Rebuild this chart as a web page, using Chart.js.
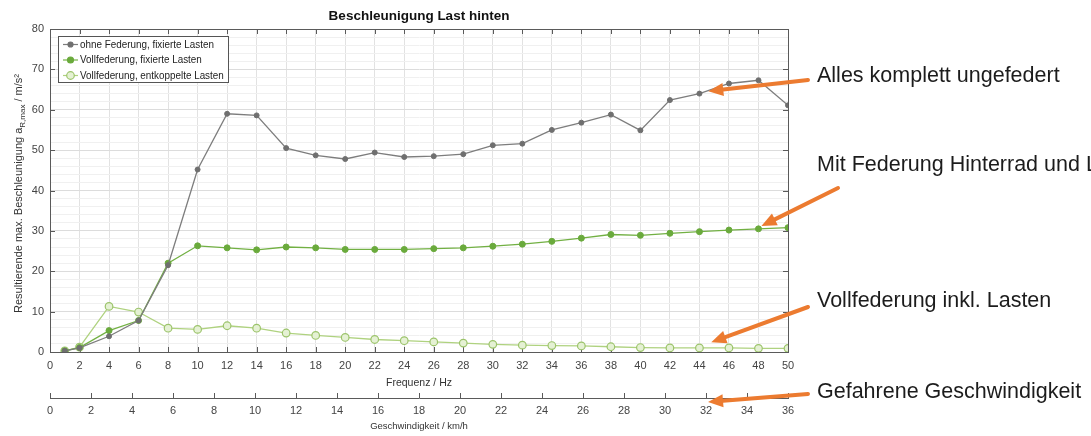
<!DOCTYPE html>
<html>
<head>
<meta charset="utf-8">
<title>Beschleunigung Last hinten</title>
<script src="https://cdn.jsdelivr.net/npm/chart.js@4.4.0/dist/chart.umd.min.js"></script>
<style>
  html, body { margin: 0; padding: 0; background: #fff; }
  #wrap { width: 1091px; height: 436px; }
</style>
</head>
<body>
<div id="wrap"><canvas id="accelChart" width="1091" height="436"></canvas></div>
<script>
// --------------------- Data ---------------------
const frequencies = [1, 2, 4, 6, 8, 10, 12, 14, 16, 18, 20, 22, 24, 26, 28, 30, 32, 34, 36, 38, 40, 42, 44, 46, 48, 50];

const ohneFederung = [0.3, 1.0, 3.9, 7.8, 21.5, 45.2, 59.0, 58.6, 50.5, 48.7, 47.8, 49.4, 48.3, 48.5, 49.0, 51.2, 51.6, 55.0, 56.8, 58.8, 54.9, 62.4, 64.0, 66.5, 67.3, 61.1];
const vollFixiert = [0.3, 1.1, 5.3, 7.8, 22.0, 26.3, 25.8, 25.3, 26.0, 25.8, 25.4, 25.4, 25.4, 25.6, 25.8, 26.2, 26.7, 27.4, 28.2, 29.1, 28.9, 29.4, 29.8, 30.2, 30.5, 30.8];
const vollEntkoppelt = [0.3, 1.2, 11.3, 9.9, 5.9, 5.6, 6.5, 5.9, 4.7, 4.1, 3.6, 3.1, 2.8, 2.5, 2.2, 1.9, 1.7, 1.6, 1.5, 1.3, 1.1, 1.0, 1.0, 1.0, 0.9, 0.9];

const freqTickLabels = [0, 2, 4, 6, 8, 10, 12, 14, 16, 18, 20, 22, 24, 26, 28, 30, 32, 34, 36, 38, 40, 42, 44, 46, 48, 50];
const speedTickLabels = [0, 2, 4, 6, 8, 10, 12, 14, 16, 18, 20, 22, 24, 26, 28, 30, 32, 34, 36];
const yTickLabels = [0, 10, 20, 30, 40, 50, 60, 70, 80];

// minor grid every 2 m/s²
const yMinorTicks = [];
for (let v = 0; v <= 80; v += 2) yMinorTicks.push(v);

const toPoints = (arr) => frequencies.map((f, i) => ({ x: f, y: arr[i] }));

// --------------------- Styles ---------------------
const tickFont = { family: "'Liberation Sans', Arial, sans-serif", size: 11 };
const labelFont = { family: "'Liberation Sans', Arial, sans-serif", size: 10.5 };
const ORANGE = "#ec7b30";

// draw text squeezed horizontally (MATLAB labels look condensed)
function narrowText(ctx, text, x, y, squeeze) {
  ctx.save();
  ctx.translate(x, y);
  ctx.scale(squeeze, 1);
  ctx.fillText(text, 0, 0);
  ctx.restore();
}

// --------------------- Plugins ---------------------
const frameAndTitle = {
  id: "frameAndTitle",
  beforeDatasetsDraw(chart) {
    const { ctx, chartArea: a, scales } = chart;
    ctx.save();
    ctx.strokeStyle = "#5a5a5a";
    ctx.lineWidth = 1;
    ctx.strokeRect(a.left + 0.5, a.top + 0.5, a.right - a.left, a.bottom - a.top);
    // inward ticks on all four edges
    ctx.beginPath();
    freqTickLabels.forEach(v => {
      const px = Math.round(scales.x.getPixelForValue(v)) + 0.5;
      ctx.moveTo(px, a.top); ctx.lineTo(px, a.top + 5);
      ctx.moveTo(px, a.bottom); ctx.lineTo(px, a.bottom - 5);
    });
    yTickLabels.forEach(v => {
      const py = Math.round(scales.y.getPixelForValue(v)) + 0.5;
      ctx.moveTo(a.right, py); ctx.lineTo(a.right - 5, py);
      ctx.moveTo(a.left, py); ctx.lineTo(a.left + 5, py);
    });
    // upward ticks on speed axis
    const x2 = scales.x2;
    speedTickLabels.forEach(v => {
      const px = Math.round(x2.getPixelForValue(v)) + 0.5;
      ctx.moveTo(px, x2.top); ctx.lineTo(px, x2.top - 5);
    });
    ctx.stroke();
    ctx.restore();
  },
  afterDraw(chart) {
    const { ctx, chartArea: a } = chart;
    ctx.save();
    // title
    ctx.fillStyle = "#111";
    ctx.font = "bold 13.5px 'Liberation Sans', Arial, sans-serif";
    ctx.textAlign = "center";
    ctx.textBaseline = "middle";
    ctx.fillText("Beschleunigung Last hinten", (a.left + a.right) / 2, 16);

    // y axis title with subscript
    const cy = (a.top + a.bottom) / 2 + 3;
    ctx.translate(18, cy);
    ctx.rotate(-Math.PI / 2);
    ctx.fillStyle = "#333";
    const main = "Resultierende max. Beschleunigung a";
    const sub = "R,max";
    const tail = " / m/s²";
    ctx.font = "11px 'Liberation Sans', sans-serif";
    const w1 = ctx.measureText(main).width;
    const w3 = ctx.measureText(tail).width;
    ctx.font = "8px 'Liberation Sans', sans-serif";
    const w2 = ctx.measureText(sub).width;
    let x = -(w1 + w2 + w3) / 2;
    ctx.textAlign = "left";
    ctx.textBaseline = "alphabetic";
    ctx.font = "11px 'Liberation Sans', sans-serif";
    ctx.fillText(main, x, 4);
    ctx.font = "8px 'Liberation Sans', sans-serif";
    ctx.fillText(sub, x + w1, 7);
    ctx.font = "11px 'Liberation Sans', sans-serif";
    ctx.fillText(tail, x + w1 + w2, 4);
    ctx.restore();
  }
};

const boxLegend = {
  id: "boxLegend",
  afterDraw(chart) {
    const { ctx } = chart;
    const left = 58, top = 36, width = 170, rowH = 15.5;
    ctx.save();
    ctx.fillStyle = "#fff";
    ctx.strokeStyle = "#555";
    ctx.lineWidth = 1;
    ctx.fillRect(left, top, width, 46);
    ctx.strokeRect(left + 0.5, top + 0.5, width, 46);
    ctx.font = "10.5px 'Liberation Sans', sans-serif";
    ctx.textBaseline = "middle";
    chart.data.datasets.forEach((ds, i) => {
      const y = top + 8.5 + i * rowH;
      ctx.strokeStyle = ds.borderColor;
      ctx.lineWidth = 1.2;
      ctx.beginPath();
      ctx.moveTo(left + 5, y);
      ctx.lineTo(left + 20, y);
      ctx.stroke();
      ctx.beginPath();
      ctx.arc(left + 12.5, y, ds.pointRadius, 0, Math.PI * 2);
      ctx.fillStyle = ds.pointBackgroundColor;
      ctx.fill();
      ctx.strokeStyle = ds.pointBorderColor;
      ctx.stroke();
      ctx.fillStyle = "#222";
      narrowText(ctx, ds.label, left + 22, y + 0.5, 0.94);
    });
    ctx.restore();
  }
};

function arrow(ctx, x1, y1, x2, y2) {
  const ang = Math.atan2(y2 - y1, x2 - x1);
  const head = 15, half = 6.5;
  const bx = x2 - head * Math.cos(ang), by = y2 - head * Math.sin(ang);
  ctx.beginPath();
  ctx.moveTo(x1, y1);
  ctx.lineTo(bx, by);
  ctx.stroke();
  ctx.beginPath();
  ctx.moveTo(x2, y2);
  ctx.lineTo(bx + half * Math.sin(ang), by - half * Math.cos(ang));
  ctx.lineTo(bx - half * Math.sin(ang), by + half * Math.cos(ang));
  ctx.closePath();
  ctx.fill();
}

const callouts = {
  id: "callouts",
  afterDraw(chart) {
    const { ctx, scales: { x, y, x2 } } = chart;
    const notes = [
      { text: "Alles komplett ungefedert", ty: 76, from: [808, 80], to: [x.getPixelForValue(44.6), y.getPixelForValue(64.6)] },
      { text: "Mit Federung Hinterrad und L", ty: 165, from: [838, 188], to: [x.getPixelForValue(48.2), y.getPixelForValue(31.2)] },
      { text: "Vollfederung inkl. Lasten", ty: 301, from: [808, 307], to: [x.getPixelForValue(44.8), y.getPixelForValue(2.4)] },
      { text: "Gefahrene Geschwindigkeit", ty: 392, from: [808, 394], to: [x2.getPixelForValue(32.1), x2.top + 4] }
    ];
    ctx.save();
    ctx.strokeStyle = ORANGE;
    ctx.fillStyle = ORANGE;
    ctx.lineWidth = 4;
    ctx.lineCap = "round";
    notes.forEach(n => arrow(ctx, n.from[0], n.from[1], n.to[0], n.to[1]));
    ctx.fillStyle = "#1c1c1c";
    ctx.font = "21.5px 'Liberation Sans', Arial, sans-serif";
    ctx.textAlign = "left";
    ctx.textBaseline = "middle";
    notes.forEach(n => ctx.fillText(n.text, 817, n.ty));
    ctx.restore();
  }
};

// --------------------- Chart ---------------------
new Chart(document.getElementById("accelChart"), {
  type: "line",
  data: {
    datasets: [
      {
        label: "ohne Federung, fixierte Lasten",
        data: toPoints(ohneFederung),
        borderColor: "#7d7d7d",
        borderWidth: 1.3,
        pointRadius: 2.5,
        pointBackgroundColor: "#6f6f6f",
        pointBorderColor: "#6f6f6f",
        pointBorderWidth: 1
      },
      {
        label: "Vollfederung, fixierte Lasten",
        data: toPoints(vollFixiert),
        borderColor: "#72b043",
        borderWidth: 1.3,
        pointRadius: 3,
        pointBackgroundColor: "#6aaa3c",
        pointBorderColor: "#6aaa3c",
        pointBorderWidth: 1
      },
      {
        label: "Vollfederung, entkoppelte Lasten",
        data: toPoints(vollEntkoppelt),
        borderColor: "#afd27f",
        borderWidth: 1.3,
        pointRadius: 3.8,
        pointBackgroundColor: "#e5f1d4",
        pointBorderColor: "#9cc46b",
        pointBorderWidth: 1.2
      }
    ]
  },
  options: {
    responsive: false,
    devicePixelRatio: 1,
    animation: false,
    layout: { padding: { left: 0, right: 303, top: 29, bottom: 0 } },
    plugins: { legend: { display: false }, title: { display: false }, tooltip: { enabled: false } },
    scales: {
      x: {
        type: "linear",
        position: "bottom",
        min: 0,
        max: 50,
        afterBuildTicks: s => { s.ticks = freqTickLabels.map(v => ({ value: v })); },
        afterFit: s => { s.height = 46; },
        grid: { color: "#e2e2e2", drawTicks: false },
        border: { color: "#5a5a5a" },
        ticks: { font: tickFont, color: "#444", padding: 7, maxRotation: 0, autoSkip: false },
        title: { display: true, text: "Frequenz / Hz", font: labelFont, color: "#333", padding: { top: 0, bottom: 9 } }
      },
      x2: {
        type: "linear",
        position: "bottom",
        min: 0,
        max: 36,
        afterBuildTicks: s => { s.ticks = speedTickLabels.map(v => ({ value: v })); },
        afterFit: s => { s.height = 38; },
        grid: { drawOnChartArea: false, drawTicks: false },
        border: { color: "#5a5a5a" },
        ticks: { font: tickFont, color: "#444", padding: 6, maxRotation: 0, autoSkip: false },
        title: { display: true, text: "Geschwindigkeit / km/h", font: { ...labelFont, size: 9.5 }, color: "#333", padding: { top: 0, bottom: 4 } }
      },
      y: {
        min: 0,
        max: 80,
        afterBuildTicks: s => { s.ticks = yMinorTicks.map(v => ({ value: v })); },
        afterFit: s => { s.width = 50; },
        grid: {
          color: c => (yTickLabels.includes(c.tick.value) ? "#dcdcdc" : "#f0f0f0"),
          drawTicks: false
        },
        border: { color: "#5a5a5a" },
        ticks: {
          font: tickFont,
          color: "#444",
          padding: 6,
          autoSkip: false,
          callback: v => (yTickLabels.includes(v) ? v : "")
        }
      }
    }
  },
  plugins: [frameAndTitle, boxLegend, callouts]
});
</script>
</body>
</html>
